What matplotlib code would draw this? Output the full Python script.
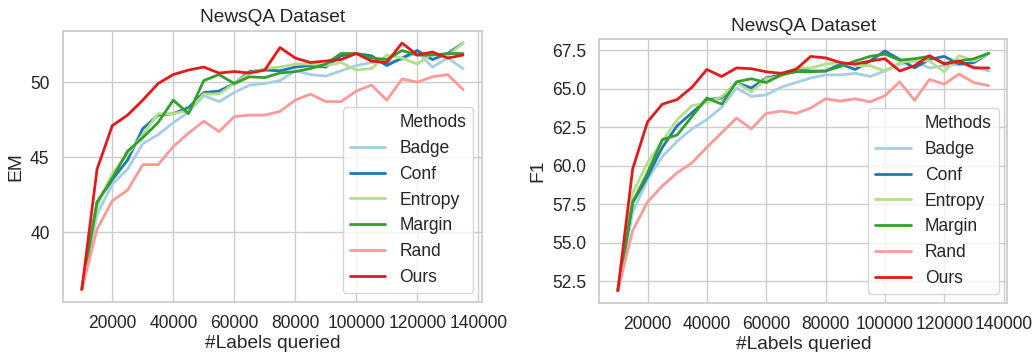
import matplotlib
matplotlib.use("Agg")
import matplotlib.pyplot as plt
from matplotlib.lines import Line2D
from matplotlib.ticker import MultipleLocator, FormatStrFormatter
import seaborn as sns

# x axis: number of labels queried
labels_queried = list(range(10000, 135001, 5000))
methods = ["Badge", "Conf", "Entropy", "Margin", "Rand", "Ours"]

# EM scores (left panel)
em_badge = [36.2, 41.2, 43.2, 44.2, 45.9, 46.5, 47.3, 48.0, 49.1, 48.7, 49.3, 49.8, 49.9,
            50.1, 50.75, 50.5, 50.4, 50.75, 51.1, 51.3, 51.3, 51.5, 52.0, 51.0, 51.6, 50.9]
em_conf = [36.2, 42.0, 43.5, 44.8, 46.9, 47.8, 47.9, 48.3, 49.3, 49.4, 49.9, 50.7, 50.8,
           50.75, 51.0, 51.1, 51.0, 51.75, 51.9, 51.75, 51.1, 51.6, 52.1, 51.5, 51.9, 52.6]
em_entropy = [36.2, 41.7, 43.9, 45.2, 46.5, 47.9, 47.9, 48.1, 49.2, 49.2, 49.9, 50.6, 50.9,
              51.0, 51.2, 51.2, 51.1, 51.3, 50.8, 50.9, 51.8, 51.6, 51.2, 51.9, 51.75, 52.6]
em_margin = [36.2, 42.0, 43.6, 45.4, 46.3, 47.3, 48.8, 47.9, 50.1, 50.5, 49.9, 50.35, 50.3,
             50.6, 50.7, 50.9, 51.2, 51.9, 51.9, 51.6, 51.5, 52.1, 51.8, 51.8, 51.9, 51.9]
em_rand = [36.2, 40.2, 42.1, 42.8, 44.5, 44.5, 45.7, 46.6, 47.4, 46.7, 47.7, 47.8, 47.8,
           48.05, 48.8, 49.2, 48.7, 48.7, 49.4, 49.8, 48.8, 50.2, 50.0, 50.35, 50.5, 49.5]
em_ours = [36.2, 44.2, 47.1, 47.8, 48.8, 49.9, 50.5, 50.8, 51.0, 50.6, 50.7, 50.6, 50.8,
           52.3, 51.6, 51.3, 51.4, 51.5, 51.9, 51.4, 51.3, 52.6, 51.8, 52.0, 51.6, 51.8]

# F1 scores (right panel)
f1_badge = [51.9, 57.0, 59.1, 60.6, 61.6, 62.4, 63.0, 63.8, 65.05, 64.5, 64.6, 65.1, 65.4,
            65.7, 65.9, 65.9, 66.0, 65.8, 66.15, 66.6, 66.8, 66.35, 66.5, 66.6, 66.45, 66.15]
f1_conf = [51.9, 57.6, 59.3, 61.2, 62.6, 63.45, 64.3, 64.4, 65.4, 65.05, 65.7, 65.9, 66.3,
           66.15, 66.15, 66.6, 66.25, 66.8, 67.45, 66.9, 66.35, 66.9, 67.1, 66.6, 66.7, 67.3]
f1_entropy = [51.9, 58.25, 60.2, 61.6, 63.0, 63.9, 64.1, 64.5, 65.4, 64.8, 65.65, 65.8, 66.35,
              66.35, 66.6, 66.7, 66.5, 66.5, 66.15, 66.7, 66.85, 66.8, 66.1, 67.15, 66.8, 67.3]
f1_margin = [51.9, 57.65, 59.55, 61.7, 62.0, 63.2, 64.4, 64.0, 65.45, 65.65, 65.4, 65.9, 66.1,
             66.1, 66.15, 66.45, 66.8, 67.1, 67.25, 66.85, 66.95, 67.1, 66.65, 66.8, 66.95, 67.3]
f1_rand = [51.9, 55.8, 57.65, 58.7, 59.55, 60.2, 61.2, 62.15, 63.1, 62.4, 63.4, 63.55, 63.4,
           63.75, 64.35, 64.2, 64.35, 64.15, 64.55, 65.45, 64.25, 65.6, 65.3, 65.95, 65.4, 65.2]
f1_ours = [51.9, 59.8, 62.85, 64.0, 64.3, 65.1, 66.25, 65.8, 66.35, 66.3, 66.1, 66.0, 66.25,
           67.1, 67.0, 66.7, 66.6, 66.8, 66.95, 66.15, 66.5, 67.15, 66.6, 66.8, 66.35, 66.35]

em_scores = [em_badge, em_conf, em_entropy, em_margin, em_rand, em_ours]
f1_scores = [f1_badge, f1_conf, f1_entropy, f1_margin, f1_rand, f1_ours]

sns.set_theme(style="whitegrid", context="notebook", font_scale=1.15)
plt.rcParams["font.family"] = ["Liberation Sans", "DejaVu Sans"]
colors = sns.color_palette("Paired", 6)

fig = plt.figure(figsize=(10.32, 3.52), dpi=100)
ax_em = fig.add_axes([0.0608, 0.1429, 0.4063, 0.7699])
ax_f1 = fig.add_axes([0.5807, 0.1401, 0.3954, 0.7491])

panels = [(ax_em, em_scores, "EM", 5), (ax_f1, f1_scores, "F1", 2.5)]
for ax, scores, ylabel, ystep in panels:
    for name, vals, c in zip(methods, scores, colors):
        ax.plot(labels_queried, vals, color=c, lw=2, label=name)
    ax.set_title("NewsQA Dataset")
    ax.set_xlabel("#Labels queried", labelpad=2)
    ax.set_ylabel(ylabel)
    ax.set_xticks(range(20000, 140001, 20000))
    ax.yaxis.set_major_locator(MultipleLocator(ystep))
    ax.set_xlim(3750, 141250)
    # seaborn-style legend: the hue name is an entry with an invisible handle
    handles, names = ax.get_legend_handles_labels()
    blank = Line2D([], [], color="none")
    ax.legend([blank] + handles, ["Methods"] + names, loc="lower right")

ax_f1.yaxis.set_major_formatter(FormatStrFormatter("%.1f"))

fig.savefig("out.png", dpi=100)
